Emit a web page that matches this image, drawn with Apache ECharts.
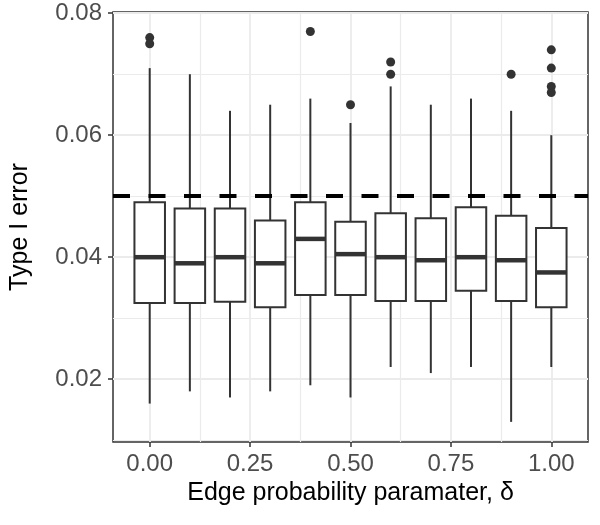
<!DOCTYPE html>
<html>
<head>
<meta charset="utf-8">
<script src="https://cdn.jsdelivr.net/npm/echarts@6/dist/echarts.min.js"></script>
<style>
  html, body { margin: 0; padding: 0; background: #fff; }
  #chart { width: 600px; height: 525px; }
</style>
</head>
<body>
<div id="chart"></div>
<script>
// edge probability parameter values (one box each)
var deltas = [0, 0.1, 0.2, 0.3, 0.4, 0.5, 0.6, 0.7, 0.8, 0.9, 1.0];
var lowerWhisker = [0.016, 0.018, 0.017, 0.018, 0.019, 0.017, 0.022, 0.021, 0.022, 0.013, 0.022];
var q1 = [0.0325, 0.0325, 0.0327, 0.0318, 0.0338, 0.0338, 0.0328, 0.0328, 0.0345, 0.0328, 0.0318];
var median = [0.040, 0.039, 0.040, 0.039, 0.043, 0.0405, 0.040, 0.0395, 0.040, 0.0395, 0.0375];
var q3 = [0.049, 0.048, 0.048, 0.046, 0.049, 0.0458, 0.0472, 0.0464, 0.0482, 0.0468, 0.0448];
var upperWhisker = [0.071, 0.070, 0.064, 0.065, 0.066, 0.062, 0.068, 0.065, 0.066, 0.064, 0.060];

// outliers
var outlierX = [0, 0, 0.4, 0.5, 0.6, 0.6, 0.9, 1.0, 1.0, 1.0, 1.0];
var outlierY = [0.076, 0.075, 0.077, 0.065, 0.072, 0.070, 0.070, 0.074, 0.071, 0.068, 0.067];

// nominal level
var nominal = 0.05;

// axis ticks
var xTicks = [0, 0.25, 0.5, 0.75, 1.0];
var xMinorTicks = [0.125, 0.375, 0.625, 0.875];
var yTicks = [0.02, 0.04, 0.06, 0.08];
var yMinorTicks = [0.01, 0.03, 0.05, 0.07];

var boxWidth = 0.076;
var ink = '#333333';
var font = 'Liberation Sans, Arial, sans-serif';

var boxData = deltas.map(function(d, i) {
	return [d, lowerWhisker[i], q1[i], median[i], q3[i], upperWhisker[i]];
});
var outlierData = outlierX.map(function(x, i) {
	return [x, outlierY[i]];
});

function renderBox(params, api) {
	var x = api.value(0);
	var lo = api.coord([x, api.value(1)]);
	var b1 = api.coord([x, api.value(2)]);
	var md = api.coord([x, api.value(3)]);
	var b3 = api.coord([x, api.value(4)]);
	var hi = api.coord([x, api.value(5)]);
	var half = api.size([boxWidth, 0])[0] / 2;
	var lineStyle = { stroke: ink, lineWidth: 2, fill: null };
	return {
		type: 'group',
		children: [
			{ type: 'line', shape: { x1: lo[0], y1: lo[1], x2: b1[0], y2: b1[1] }, style: lineStyle },
			{ type: 'line', shape: { x1: hi[0], y1: hi[1], x2: b3[0], y2: b3[1] }, style: lineStyle },
			{ type: 'rect', shape: { x: b3[0] - half, y: b3[1], width: half * 2, height: b1[1] - b3[1] },
				style: { fill: '#ffffff', stroke: ink, lineWidth: 2 } },
			{ type: 'line', shape: { x1: md[0] - half, y1: md[1], x2: md[0] + half, y2: md[1] },
				style: { stroke: ink, lineWidth: 4.5 } }
		]
	};
}

// minor grid lines come from a second, otherwise invisible axis
function minorAxis(min, max, ticks, position) {
	return {
		type: 'value', min: min, max: max, gridIndex: 0, position: position,
		axisLine: { show: false, onZero: false },
		axisLabel: { show: false, customValues: ticks },
		axisTick: { show: false, customValues: ticks },
		splitLine: { show: true, lineStyle: { color: '#EBEBEB', width: 1.2 } }
	};
}

var chart = echarts.init(document.getElementById('chart'));
chart.setOption({
	animation: false,
	backgroundColor: '#ffffff',
	grid: {
		left: 111, right: 12, top: 12, bottom: 83,
		show: true, borderColor: ink, borderWidth: 1.5, backgroundColor: 'transparent'
	},
	xAxis: [{
		type: 'value', min: -0.0914, max: 1.0914, position: 'bottom',
		name: 'Edge probability paramater, δ',
		nameLocation: 'middle', nameGap: 39,
		nameTextStyle: { color: '#000', fontSize: 25, fontFamily: font },
		axisLine: { show: false, onZero: false },
		axisTick: { show: true, length: 5, customValues: xTicks, lineStyle: { color: ink, width: 1.5 } },
		axisLabel: {
			customValues: xTicks, margin: 10, color: '#4D4D4D', fontSize: 24, fontFamily: font,
			formatter: function(v) { return v.toFixed(2); }
		},
		splitLine: { show: true, lineStyle: { color: '#EBEBEB', width: 1.8 } }
	}, minorAxis(-0.0914, 1.0914, xMinorTicks, 'bottom')],
	yAxis: [{
		type: 'value', min: 0.0097, max: 0.0802, position: 'left',
		name: 'Type I error',
		nameLocation: 'middle', nameGap: 80,
		nameTextStyle: { color: '#000', fontSize: 25, fontFamily: font },
		axisLine: { show: false, onZero: false },
		axisTick: { show: true, length: 5, customValues: yTicks, lineStyle: { color: ink, width: 1.5 } },
		axisLabel: {
			customValues: yTicks, margin: 11, color: '#4D4D4D', fontSize: 24, fontFamily: font,
			formatter: function(v) { return v.toFixed(2); }
		},
		splitLine: { show: true, lineStyle: { color: '#EBEBEB', width: 1.8 } }
	}, minorAxis(0.0097, 0.0802, yMinorTicks, 'left')],
	series: [{
		type: 'custom',
		xAxisIndex: 0, yAxisIndex: 0,
		renderItem: renderBox,
		encode: { x: 0, y: [1, 2, 3, 4, 5] },
		data: boxData,
		z: 2
	}, {
		type: 'scatter',
		xAxisIndex: 0, yAxisIndex: 0,
		symbolSize: 9,
		itemStyle: { color: ink, opacity: 1 },
		data: outlierData,
		z: 3,
		markLine: {
			silent: true,
			symbol: 'none',
			label: { show: false },
			lineStyle: { color: '#000', width: 4, type: [17, 18.5] },
			data: [{ yAxis: nominal }]
		}
	}]
});
</script>
</body>
</html>
